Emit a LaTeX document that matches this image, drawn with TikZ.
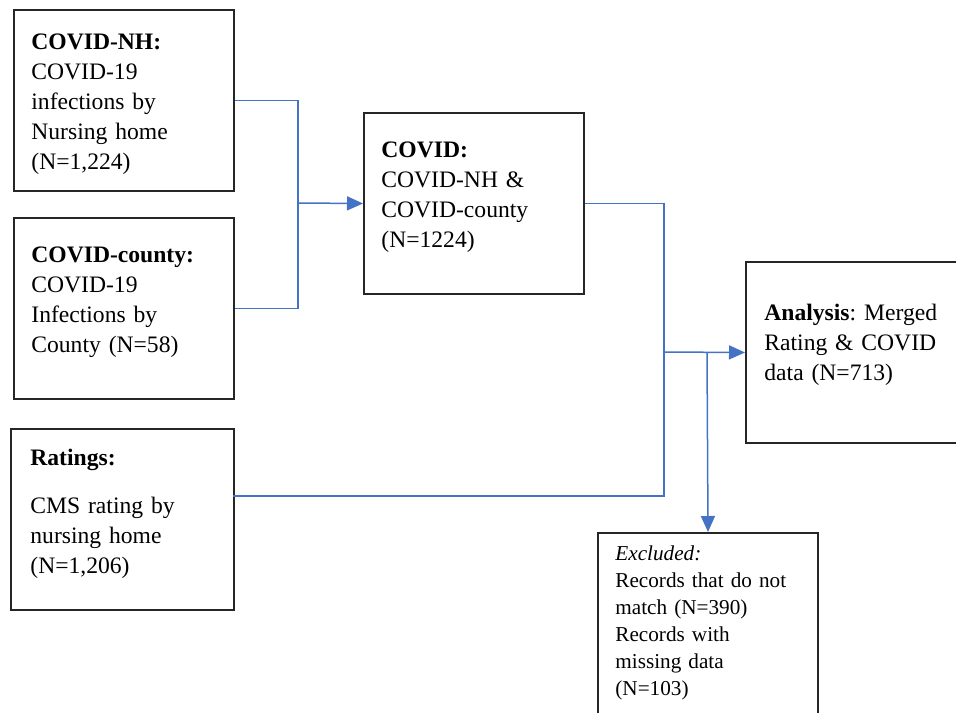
\documentclass[tikz,border=0pt]{standalone}
\usepackage{fontspec}
\setmainfont{Liberation Serif}
\usetikzlibrary{arrows.meta}
\definecolor{linkblue}{RGB}{68,114,196}
\frenchspacing

\begin{document}
\begin{tikzpicture}[x=0.5pt, y=-0.5pt,
    box/.style={draw=black!85, line width=1pt, minimum width=110pt, minimum height=90.5pt, inner sep=0pt, anchor=north west},
    txt/.style={anchor=base west, inner sep=0pt, align=left, text width=105pt, font=\fontsize{11.8}{15}\selectfont},
    small/.style={txt, font=\fontsize{10.6}{13.5}\selectfont},
    link/.style={draw=linkblue, line width=0.75pt},
    arr/.style={link, -{Triangle[length=8pt, width=7pt]}}]
    \clip (0,0) rectangle (956,712);
    % boxes
    \node[box] (nh) at (13,9) {};
    \node[box] (county) at (13,217) {};
    \node[box, minimum width=111.5pt] (ratings) at (10,428) {};
    \node[box] (covid) at (363,112) {};
    \node[box] (analysis) at (745,261) {};
    \node[box] (excl) at (597,532) {};
    % texts
    \node[txt] (nhtext) at (31,49) {\textbf{COVID-NH:}\\COVID-19\\infections by\\Nursing home\\(N=1,224)};
    \node[txt] (countytext) at (31,262) {\textbf{COVID-county:}\\COVID-19\\Infections by\\County (N=58)};
    \node[txt] (ratingstext) at (30,465) {\textbf{Ratings:}\\[9pt]CMS rating by\\nursing home\\(N=1,206)};
    \node[txt] (covidtext) at (381,157) {\textbf{COVID:}\\COVID-NH \&\\COVID-county\\(N=1224)};
    \node[txt] (analysistext) at (764,320) {\textbf{Analysis}: Merged\\Rating \& COVID\\data (N=713)};
    \node[small] (excltext) at (615,560) {\textit{Excluded:}\\Records that do not\\match (N=390)\\Records with\\missing data\\(N=103)};
    % connectors
    \coordinate (j1) at (298,203);
    \coordinate (j2) at (664,352);
    \coordinate (j3) at (707,352);
    \coordinate (rt) at (233,496);
    \draw[link] (nh.east) -| (j1) |- (county.east);
    \draw[arr] (j1) -- (covid.west);
    \draw[link] (covid.east) -| (j2) |- (rt);
    \draw[arr] (j2) -- (analysis.west);
    \draw[arr] (j3) -- (excl.north);
\end{tikzpicture}
\end{document}
